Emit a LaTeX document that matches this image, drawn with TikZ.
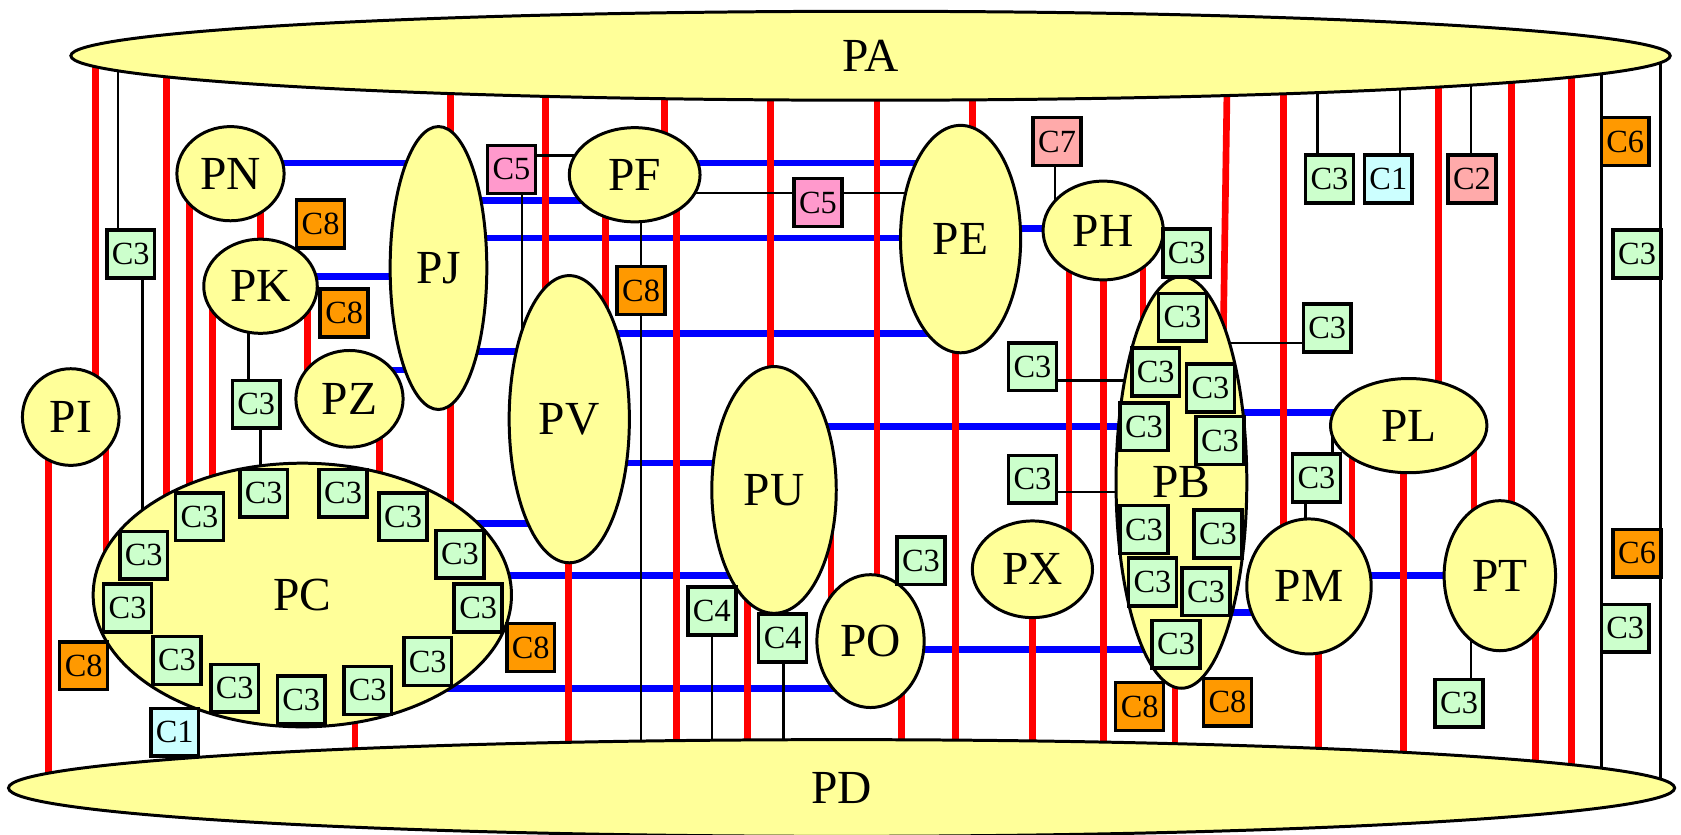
\documentclass[tikz,border=0pt]{standalone}
\usepackage{fontspec}
\setmainfont{Liberation Serif}
\usetikzlibrary{shapes.geometric,backgrounds}
\definecolor{pyellow}{RGB}{255,255,153}
\definecolor{cgreen}{RGB}{204,255,204}
\definecolor{corange}{RGB}{255,153,0}
\definecolor{cpink}{RGB}{255,153,204}
\definecolor{csalmon}{RGB}{255,170,170}
\definecolor{ccyan}{RGB}{204,255,255}
\tikzset{
  proc/.style={ellipse, draw, fill=pyellow, line width=0.85pt, inner sep=0pt,
               font=\fontsize{13.5}{16}\selectfont},
  lab/.style={rectangle, draw, line width=1pt, inner sep=0pt,
              minimum width=13.6pt, minimum height=13.6pt, font=\fontsize{9.2}{10}\selectfont},
  labg/.style={lab, fill=cgreen},
  labo/.style={lab, fill=corange},
  labp/.style={lab, fill=cpink},
  labs/.style={lab, fill=csalmon},
  labc/.style={lab, fill=ccyan},
  rwire/.style={red, line width=1.9pt},
  bwire/.style={blue, line width=1.9pt},
  kwire/.style={black, line width=0.75pt},
}
\begin{document}
\begin{tikzpicture}[x=0.305pt, y=-0.305pt]
  \useasboundingbox (0,0) rectangle (1568,778);
  \node[proc, minimum width=455pt, minimum height=25.3pt] (PA) at (812,52) {PA};
  \node[proc, minimum width=474pt, minimum height=27.5pt] (PD) at (785,735) {PD};
  \node[proc, minimum width=30.5pt, minimum height=26.8pt] (PN) at (215,162) {PN};
  \node[proc, minimum width=32.3pt, minimum height=26.8pt] (PK) at (243,267) {PK};
  \node[proc, minimum width=27.5pt, minimum height=27.5pt] (PI) at (66,389) {PI};
  \node[proc, minimum width=30.5pt, minimum height=27.5pt] (PZ) at (326,372) {PZ};
  \node[proc, minimum width=27.5pt, minimum height=80.5pt] (PJ) at (409,250) {PJ};
  \node[proc, minimum width=34.2pt, minimum height=81.7pt] (PV) at (531,391) {PV};
  \node[proc, minimum width=37.2pt, minimum height=26.8pt] (PF) at (592,163) {PF};
  \node[proc, minimum width=35.4pt, minimum height=70.2pt] (PU) at (722,457) {PU};
  \node[proc, minimum width=30.5pt, minimum height=37.8pt] (PO) at (812,598) {PO};
  \node[proc, minimum width=34.2pt, minimum height=64.7pt] (PE) at (896,223) {PE};
  \node[proc, minimum width=34.2pt, minimum height=28.1pt] (PH) at (1029,215) {PH};
  \node[proc, minimum width=34.2pt, minimum height=27.5pt] (PX) at (963,531) {PX};
  \node[proc, minimum width=37.2pt, minimum height=117.1pt] (PB) at (1102,450) {PB};
  \node[proc, minimum width=44.5pt, minimum height=26.8pt] (PL) at (1314,397) {PL};
  \node[proc, minimum width=35.4pt, minimum height=38.4pt] (PM) at (1221,547) {PM};
  \node[proc, minimum width=31.7pt, minimum height=42.7pt] (PT) at (1399,537) {PT};
  \node[proc, minimum width=119pt, minimum height=75pt] (PC) at (282,555) {PC};

  \node[labg] (c3l) at (122,237) {C3};
  \node[labg] (c3k) at (239,377) {C3};
  \node[labo] (c8n) at (299,209) {C8};
  \node[labo] (c8k) at (321,292) {C8};
  \node[labp] (c5j) at (477,158) {C5};
  \node[labp] (c5f) at (763,189) {C5};
  \node[labo] (c8f) at (598,271) {C8};
  \node[labs] (c7h) at (986,132) {C7};
  \node[labg] (c3h) at (1107,236) {C3};
  \node[labg] (c3bl) at (963,342) {C3};
  \node[labg] (c3bm) at (963,447) {C3};
  \node[labg] (c3br) at (1238,306) {C3};
  \node[labg] (c3t) at (1240,167) {C3};
  \node[labc] (c1t) at (1295,167) {C1};
  \node[labs] (c2t) at (1373,167) {C2};
  \node[labo] (c6a) at (1516,132) {C6};
  \node[labg] (c3ra) at (1527,237) {C3};
  \node[labo] (c6b) at (1527,516) {C6};
  \node[labg] (c3rb) at (1516,586) {C3};
  \node[labg] (c3pl) at (1228,446) {C3};
  \node[labg] (c3pt) at (1361,656) {C3};
  \node[labo] (c8ba) at (1063,659) {C8};
  \node[labo] (c8bb) at (1145,655) {C8};
  \node[labg] (c3o) at (859,523) {C3};
  \node[labg] (c4a) at (664,570) {C4};
  \node[labg] (c4b) at (730,595) {C4};
  \node[labc] (c1c) at (163,683) {C1};
  \node[labo] (c8c) at (78,621) {C8};
  \node[labo] (c8r) at (495,604) {C8};

  \node[labg] (pc1) at (246,460) {C3};
  \node[labg] (pc2) at (320,460) {C3};
  \node[labg] (pc3) at (186,482) {C3};
  \node[labg] (pc4) at (376,482) {C3};
  \node[labg] (pc5) at (134,518) {C3};
  \node[labg] (pc6) at (429,517) {C3};
  \node[labg] (pc7) at (119,567) {C3};
  \node[labg] (pc8) at (446,567) {C3};
  \node[labg] (pc9) at (165,616) {C3};
  \node[labg] (pc10) at (399,617) {C3};
  \node[labg] (pc11) at (219,642) {C3};
  \node[labg] (pc12) at (343,644) {C3};
  \node[labg] (pc13) at (281,653) {C3};

  \node[labg] (pb1) at (1103,296) {C3};
  \node[labg] (pb2) at (1078,347) {C3};
  \node[labg] (pb3) at (1129,362) {C3};
  \node[labg] (pb4) at (1067,398) {C3};
  \node[labg] (pb5) at (1138,411) {C3};
  \node[labg] (pb6) at (1067,494) {C3};
  \node[labg] (pb7) at (1136,498) {C3};
  \node[labg] (pb8) at (1075,543) {C3};
  \node[labg] (pb9) at (1125,552) {C3};
  \node[labg] (pb10) at (1097,601) {C3};

  \begin{scope}[on background layer]
    \draw[bwire] (PN |- 0,152) -- (PJ |- 0,152);
    \draw[bwire] (PF |- 0,152) -- (PE |- 0,152);
    \draw[bwire] (PJ |- 0,187) -- (PF |- 0,187);
    \draw[bwire] (PJ |- 0,222) -- (PE |- 0,222);
    \draw[bwire] (PK |- 0,258) -- (PJ |- 0,258);
    \draw[bwire] (PZ |- 0,345) -- (PJ |- 0,345);
    \draw[bwire] (PJ |- 0,328) -- (PV |- 0,328);
    \draw[bwire] (PV |- 0,311) -- (PE |- 0,311);
    \draw[bwire] (PE |- 0,213) -- (PH |- 0,213);
    \draw[bwire] (PV |- 0,432) -- (PU |- 0,432);
    \draw[bwire] (PU |- 0,398) -- (PB |- 0,398);
    \draw[bwire] (PB |- 0,385) -- (PL |- 0,385);
    \draw[bwire] (PC |- 0,488) -- (PV |- 0,488);
    \draw[bwire] (PC |- 0,537) -- (PU |- 0,537);
    \draw[bwire] (PC |- 0,642) -- (PO |- 0,642);
    \draw[bwire] (PO |- 0,606) -- (PB |- 0,606);
    \draw[bwire] (PB |- 0,571) -- (PM |- 0,571);
    \draw[bwire] (PM |- 0,537) -- (PT |- 0,537);

    \draw[rwire] (89,0 |- PA) -- (89,0 |- PI);
    \draw[rwire] (45,0 |- PI) -- (45,0 |- PD);
    \draw[rwire] (99,0 |- PI) -- (99,0 |- PC);
    \draw[rwire] (155,0 |- PA) -- (155,0 |- PC);
    \draw[rwire] (177,0 |- PN) -- (177,0 |- PC);
    \draw[rwire] (198,0 |- PK) -- (198,0 |- PC);
    \draw[rwire] (243,0 |- PN) -- (243,0 |- PK);
    \draw[rwire] (287,0 |- PK) -- (287,0 |- PZ);
    \draw[rwire] (354,0 |- PZ) -- (354,0 |- PC);
    \draw[rwire] (420,0 |- PA) -- (420,0 |- PJ);
    \draw[rwire] (420,0 |- PJ) -- (420,0 |- PC);
    \draw[rwire] (331,0 |- PC) -- (331,0 |- PD);
    \draw[rwire] (509,0 |- PA) -- (509,0 |- PV);
    \draw[rwire] (565,0 |- PF) -- (565,0 |- PV);
    \draw[rwire] (620,0 |- PA) -- (620,0 |- PF);
    \draw[rwire] (631,0 |- PF) -- (631,0 |- PD);
    \draw[rwire] (530,0 |- PV) -- (530,0 |- PD);
    \draw[rwire] (719,0 |- PA) -- (719,0 |- PU);
    \draw[rwire] (697,0 |- PU) -- (697,0 |- PD);
    \draw[rwire] (775,0 |- PU) -- (775,0 |- PO);
    \draw[rwire] (818,0 |- PA) -- (818,0 |- PO);
    \draw[rwire] (841,0 |- PO) -- (841,0 |- PD);
    \draw[rwire] (907,0 |- PA) -- (907,0 |- PE);
    \draw[rwire] (891,0 |- PE) -- (891,0 |- PD);
    \draw[rwire] (963,0 |- PX) -- (963,0 |- PD);
    \draw[rwire] (997,0 |- PH) -- (997,0 |- PX);
    \draw[rwire] (1029,0 |- PH) -- (1029,0 |- PD);
    \draw[rwire] (1066,0 |- PH) -- (1066,0 |- PB);
    \draw[rwire] (1145,0 |- PA) -- (1139,0 |- PB);
    \draw[rwire] (1096,0 |- PB) -- (1096,0 |- PD);
    \draw[rwire] (1197,0 |- PA) -- (1197,0 |- PM);
    \draw[rwire] (1230,0 |- PM) -- (1230,0 |- PD);
    \draw[rwire] (1261,0 |- PL) -- (1261,0 |- PM);
    \draw[rwire] (1309,0 |- PL) -- (1309,0 |- PD);
    \draw[rwire] (1342,0 |- PA) -- (1342,0 |- PL);
    \draw[rwire] (1375,0 |- PL) -- (1375,0 |- PT);
    \draw[rwire] (1410,0 |- PA) -- (1410,0 |- PT);
    \draw[rwire] (1432,0 |- PT) -- (1432,0 |- PD);
    \draw[rwire] (1466,0 |- PA) -- (1466,0 |- PD);

    \draw[kwire] (110,0 |- PA) -- (110,0 |- c3l);
    \draw[kwire] (133,0 |- c3l) -- (133,0 |- PC);
    \draw[kwire] (232,0 |- PK) -- (232,0 |- c3k);
    \draw[kwire] (243,0 |- c3k) -- (243,0 |- PC);
    \draw[kwire] (c5j |- 0,145) -- (PF |- 0,145);
    \draw[kwire] (487,0 |- c5j) -- (487,0 |- PV);
    \draw[kwire] (PF |- 0,180) -- (PE |- 0,180);
    \draw[kwire] (598,0 |- PF) -- (598,0 |- PD);
    \draw[kwire] (664,0 |- c4a) -- (664,0 |- PD);
    \draw[kwire] (731,0 |- c4b) -- (731,0 |- PD);
    \draw[kwire] (984,0 |- c7h) -- (984,0 |- PH);
    \draw[kwire] (c3bl |- 0,355) -- (PB |- 0,355);
    \draw[kwire] (c3bm |- 0,459) -- (PB |- 0,459);
    \draw[kwire] (PB |- 0,320) -- (c3br |- 0,320);
    \draw[kwire] (1229,0 |- PA) -- (1229,0 |- c3t);
    \draw[kwire] (1306,0 |- PA) -- (1306,0 |- c1t);
    \draw[kwire] (1372,0 |- PA) -- (1372,0 |- c2t);
    \draw[kwire] (1243,0 |- PL) -- (1243,0 |- c3pl);
    \draw[kwire] (1218,0 |- c3pl) -- (1218,0 |- PM);
    \draw[kwire] (1372,0 |- PT) -- (1372,0 |- c3pt);
    \draw[kwire] (1494,0 |- PA) -- (1494,0 |- PD);
    \draw[kwire] (1549,0 |- PA) -- (1549,0 |- PD);
  \end{scope}
\end{tikzpicture}
\end{document}
